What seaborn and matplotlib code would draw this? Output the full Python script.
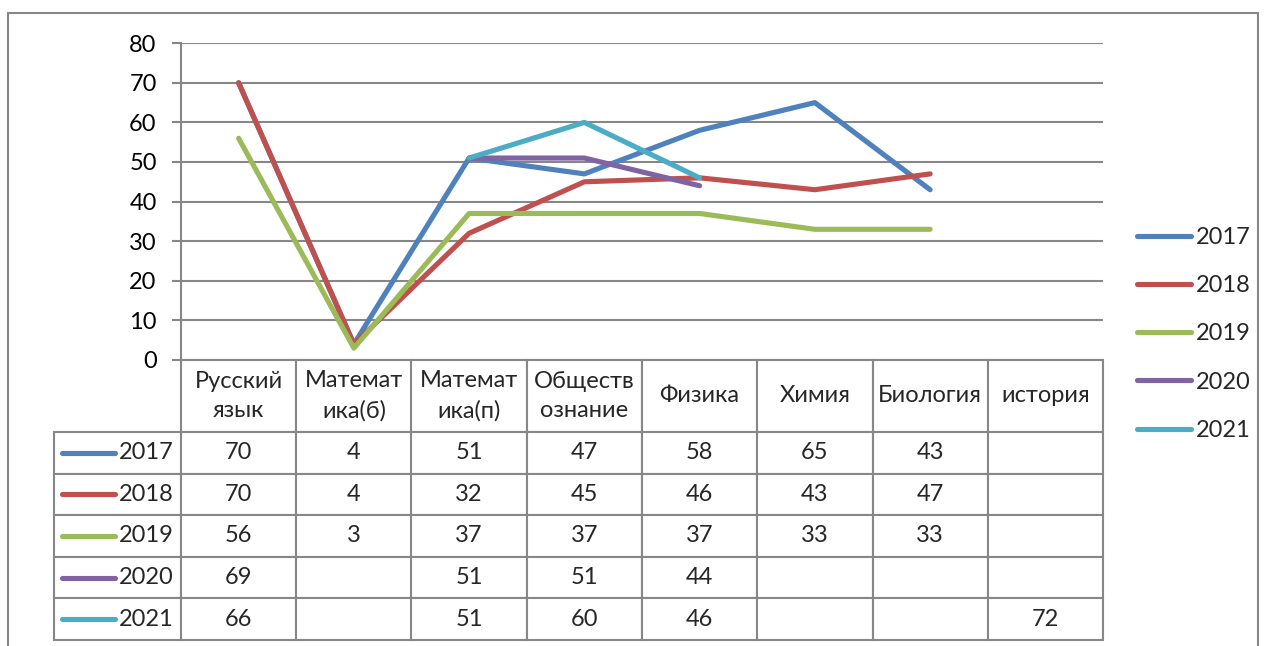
import numpy as np
import pandas as pd
import matplotlib
matplotlib.use("Agg")
import matplotlib.pyplot as plt
from matplotlib.lines import Line2D
from matplotlib.patches import Rectangle
from matplotlib.table import Table
import seaborn as sns

# данные с картинки
categories = ["Русский язык", "Математика(б)", "Математика(п)", "Обществознание",
              "Физика", "Химия", "Биология", "история"]
header_labels = ["Русский\nязык", "Математ\nика(б)", "Математ\nика(п)", "Обществ\nознание",
                 "Физика", "Химия", "Биология", "история"]
years = ["2017", "2018", "2019", "2020", "2021"]
nan = np.nan
scores_2017 = [70, 4, 51, 47, 58, 65, 43, nan]
scores_2018 = [70, 4, 32, 45, 46, 43, 47, nan]
scores_2019 = [56, 3, 37, 37, 37, 33, 33, nan]
scores_2020 = [69, nan, 51, 51, 44, nan, nan, nan]
scores_2021 = [66, nan, 51, 60, 46, nan, nan, 72]
colors = ["#4F81BD", "#C0504D", "#9BBB59", "#8064A2", "#4BACC6"]

series = dict(zip(years, [scores_2017, scores_2018, scores_2019, scores_2020, scores_2021]))
palette = dict(zip(years, colors))

# long format, lücken trennen die linie (wie in Excel)
rows = []
for year, vals in series.items():
    seg = 0
    prev_missing = True
    for i, v in enumerate(vals):
        if np.isnan(v):
            prev_missing = True
            continue
        if prev_missing:
            seg += 1
        prev_missing = False
        rows.append({"year": year, "pos": i, "score": v, "seg": f"{year}-{seg}"})
df = pd.DataFrame(rows)

sns.set_style("white")
plt.rcParams["font.family"] = ["Lato", "DejaVu Sans"]
FS = 17
gray = "#878787"
W, H = 1266, 646

fig = plt.figure(figsize=(W / 100, H / 100), dpi=100)
ax = fig.add_axes([181 / W, 1 - 360 / H, 922 / W, 317 / H])

sns.lineplot(data=df, x="pos", y="score", hue="year", hue_order=years, units="seg",
             estimator=None, palette=palette, linewidth=3.7, legend=False, ax=ax,
             solid_capstyle="round", solid_joinstyle="round")

ax.set_xlim(-0.5, len(categories) - 0.5)
ax.set_ylim(0, 80.05)
ax.set_yticks(range(0, 81, 10))
ax.set_xticks([])
ax.set_xlabel("")
ax.set_ylabel("")
ax.grid(axis="y", color=gray, linewidth=1.5)
ax.set_axisbelow(True)
for side in ["top", "right", "bottom"]:
    ax.spines[side].set_visible(False)
ax.spines["left"].set_color(gray)
ax.spines["left"].set_linewidth(1.5)
ax.tick_params(axis="y", left=True, length=6.5, width=1.5, color=gray, pad=11,
               labelsize=FS, labelcolor="black")

# datentabelle unter dem diagramm
lab_w = 127 / 922
col_w = 1 / len(categories)
head_h = 72 / 317
row_h = 41.6 / 317
tbl = Table(ax, bbox=[-lab_w, -(head_h + row_h * len(years)), lab_w + 1, head_h + row_h * len(years)])
c = tbl.add_cell(0, 0, width=lab_w, height=head_h, text="")
c.visible_edges = ""
for j, lab in enumerate(header_labels):
    c = tbl.add_cell(0, j + 1, width=col_w, height=head_h, text=lab, loc="center",
                     edgecolor=gray)
    c.set_text_props(linespacing=1.5)
for i, (year, vals) in enumerate(series.items()):
    c = tbl.add_cell(i + 1, 0, width=lab_w, height=row_h, text=year, loc="right",
                     edgecolor=gray)
    c.PAD = 0.06
    for j, v in enumerate(vals):
        txt = "" if np.isnan(v) else f"{v:.0f}"
        tbl.add_cell(i + 1, j + 1, width=col_w, height=row_h, text=txt, loc="center",
                     edgecolor=gray)
tbl.auto_set_font_size(False)
tbl.set_fontsize(FS)
for cell in tbl.get_celld().values():
    cell.set_linewidth(1.5)
ax.add_table(tbl)

# legendenschlüssel in der tabelle
for i, year in enumerate(years):
    yc = -(head_h + row_h * (i + 0.5))
    ax.add_line(Line2D([(62 - 181) / 922, (115 - 181) / 922], [yc, yc], transform=ax.transAxes,
                       color=palette[year], lw=3.7, solid_capstyle="round", clip_on=False))

# legende rechts
handles = [Line2D([], [], color=palette[y], lw=3.7, solid_capstyle="round") for y in years]
ax.legend(handles, years, loc="center left", bbox_to_anchor=((1137 - 181) / 922, (360 - 334) / 317),
          frameon=False, fontsize=FS, handlelength=2.3, handletextpad=0.2, labelspacing=1.15,
          borderaxespad=0, borderpad=0)

# rahmen um alles
fig.patches.append(Rectangle((8 / W, -0.05), 1250 / W, 1.05 - 13 / H, transform=fig.transFigure,
                             fill=False, edgecolor=gray, lw=1.5))

fig.savefig("out.png", dpi=100)
